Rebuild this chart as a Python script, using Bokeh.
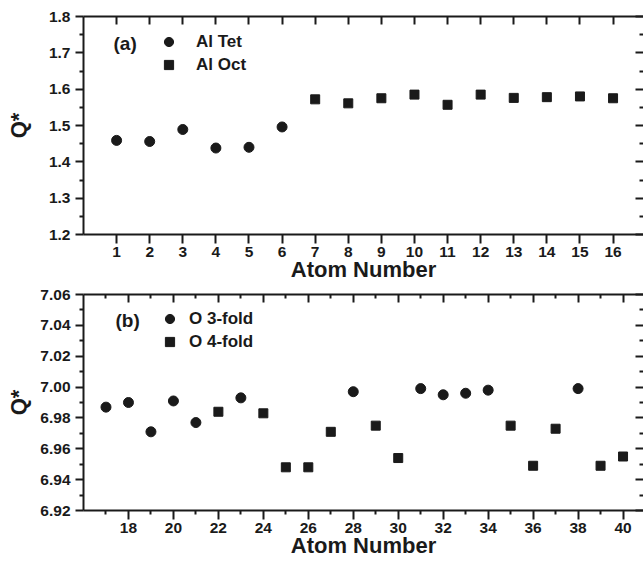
from bokeh.plotting import figure
from bokeh.layouts import column
from bokeh.models import (Range1d, LinearAxis, FixedTicker, PrintfTickFormatter,
                          Legend, LegendItem, Label)
from bokeh.embed import file_html
from bokeh.resources import INLINE

# ---------------- data ----------------
tet_atoms = [1, 2, 3, 4, 5, 6]
tet_q = [1.459, 1.456, 1.489, 1.438, 1.440, 1.496]
oct_atoms = [7, 8, 9, 10, 11, 12, 13, 14, 15, 16]
oct_q = [1.572, 1.561, 1.575, 1.585, 1.557, 1.585, 1.576, 1.578, 1.580, 1.575]

o3_atoms = [17, 18, 19, 20, 21, 23, 28, 31, 32, 33, 34, 38]
o3_q = [6.987, 6.990, 6.971, 6.991, 6.977, 6.993, 6.997, 6.999, 6.995, 6.996, 6.998, 6.999]
o4_atoms = [22, 24, 25, 26, 27, 29, 30, 35, 36, 37, 39, 40]
o4_q = [6.984, 6.983, 6.948, 6.948, 6.971, 6.975, 6.954, 6.975, 6.949, 6.973, 6.949, 6.955]

a_x_ticks = [1, 2, 3, 4, 5, 6, 7, 8, 9, 10, 11, 12, 13, 14, 15, 16]
a_y_ticks = [1.2, 1.3, 1.4, 1.5, 1.6, 1.7, 1.8]
a_y_minor = [1.25, 1.35, 1.45, 1.55, 1.65, 1.75]
b_x_ticks = [18, 20, 22, 24, 26, 28, 30, 32, 34, 36, 38, 40]
b_x_minor = [17, 19, 21, 23, 25, 27, 29, 31, 33, 35, 37, 39]
b_y_ticks = [6.92, 6.94, 6.96, 6.98, 7.00, 7.02, 7.04, 7.06]
b_y_minor = [6.93, 6.95, 6.97, 6.99, 7.01, 7.03, 7.05]

FONT = "Liberation Sans"
INK = "#1a1a1a"


def style_axis(ax, ticker, tick_out, tick_in, minor_out, minor_in, labels=True,
               line=True):
    ax.ticker = ticker
    ax.major_tick_out = tick_out
    ax.major_tick_in = tick_in
    ax.minor_tick_out = minor_out
    ax.minor_tick_in = minor_in
    ax.major_tick_line_width = 2
    ax.minor_tick_line_width = 2
    ax.major_tick_line_color = INK
    ax.minor_tick_line_color = INK
    ax.axis_line_width = 2
    ax.axis_line_color = INK if line else None
    if labels:
        ax.major_label_text_font = FONT
        ax.major_label_text_font_style = "bold"
        ax.major_label_text_font_size = "15.5px"
        ax.major_label_text_color = INK
    else:
        ax.major_label_overrides = {t: "" for t in ticker.ticks}
        ax.major_label_standoff = 0
    ax.axis_label_text_font = FONT
    ax.axis_label_text_font_style = "bold"
    ax.axis_label_text_font_size = "22px"
    ax.axis_label_text_color = INK


def make_panel(xr, yr, xt, xminor, yt, yminor, yfmt, top_border, frame_h,
               ylab_standoff):
    p = figure(frame_width=560, frame_height=frame_h,
               min_border_left=83, min_border_right=0,
               min_border_top=top_border, min_border_bottom=0,
               x_range=Range1d(*xr), y_range=Range1d(*yr),
               output_backend="svg", toolbar_location=None)
    p.outline_line_color = None
    p.grid.visible = False
    p.background_fill_color = "white"
    p.border_fill_color = "white"

    bx = p.xaxis[0]
    style_axis(bx, FixedTicker(ticks=xt, minor_ticks=xminor), 9, 0, 4, 0)
    bx.major_label_standoff = 3
    bx.axis_label = "Atom Number"
    bx.axis_label_standoff = -3

    ly = p.yaxis[0]
    style_axis(ly, FixedTicker(ticks=yt, minor_ticks=yminor), 8, 0, 4, 0)
    ly.major_label_standoff = 5
    ly.formatter = PrintfTickFormatter(format=yfmt)
    ly.axis_label = "Q*"
    ly.axis_label_standoff = ylab_standoff

    tx = LinearAxis()
    style_axis(tx, FixedTicker(ticks=xt, minor_ticks=xminor), 0, 8, 0, 4,
               labels=False)
    p.add_layout(tx, "above")

    ry = LinearAxis()
    style_axis(ry, FixedTicker(ticks=yt, minor_ticks=yminor), 0, 8, 0, 4,
               labels=False, line=False)
    p.add_layout(ry, "right")
    return p


def add_legend(p, items, x, y, standoff):
    leg = Legend(items=items, location=(x, y), orientation="vertical",
                 background_fill_alpha=0, border_line_color=None,
                 padding=0, margin=0, spacing=0,
                 glyph_width=23, glyph_height=23, label_height=23,
                 label_standoff=standoff,
                 label_text_font=FONT, label_text_font_style="bold",
                 label_text_font_size="17px", label_text_color=INK)
    p.add_layout(leg)


# ---------------- panel (a) ----------------
p1 = make_panel((0, 16.92), (1.2, 1.8), a_x_ticks, [], a_y_ticks, a_y_minor,
                "%.1f", 16, 218, 15)
r_tet = p1.scatter(tet_atoms, tet_q, marker="circle", size=10, color=INK)
r_oct = p1.scatter(oct_atoms, oct_q, marker="square", size=9, color=INK)
add_legend(p1, [LegendItem(label="Al Tet", renderers=[r_tet]),
                LegendItem(label="Al Oct", renderers=[r_oct])], 74, 158, 16)
p1.add_layout(Label(x=30, y=191, x_units="screen", y_units="screen", text="(a)",
                    text_font=FONT, text_font_style="bold", text_font_size="19px",
                    text_color=INK, text_baseline="middle", text_align="left"))

# ---------------- panel (b) ----------------
p2 = make_panel((16, 40.91), (6.92, 7.06), b_x_ticks, b_x_minor, b_y_ticks,
                b_y_minor, "%.2f", 10, 216, 6)
r_o3 = p2.scatter(o3_atoms, o3_q, marker="circle", size=10, color=INK)
r_o4 = p2.scatter(o4_atoms, o4_q, marker="square", size=9, color=INK)
add_legend(p2, [LegendItem(label="O 3-fold", renderers=[r_o3]),
                LegendItem(label="O 4-fold", renderers=[r_o4])], 75, 157, 8)
p2.add_layout(Label(x=32, y=190, x_units="screen", y_units="screen", text="(b)",
                    text_font=FONT, text_font_style="bold", text_font_size="19px",
                    text_color=INK, text_baseline="middle", text_align="left"))

layout = column(p1, p2, spacing=0)
open("out.html", "w").write(file_html(layout, INLINE))
